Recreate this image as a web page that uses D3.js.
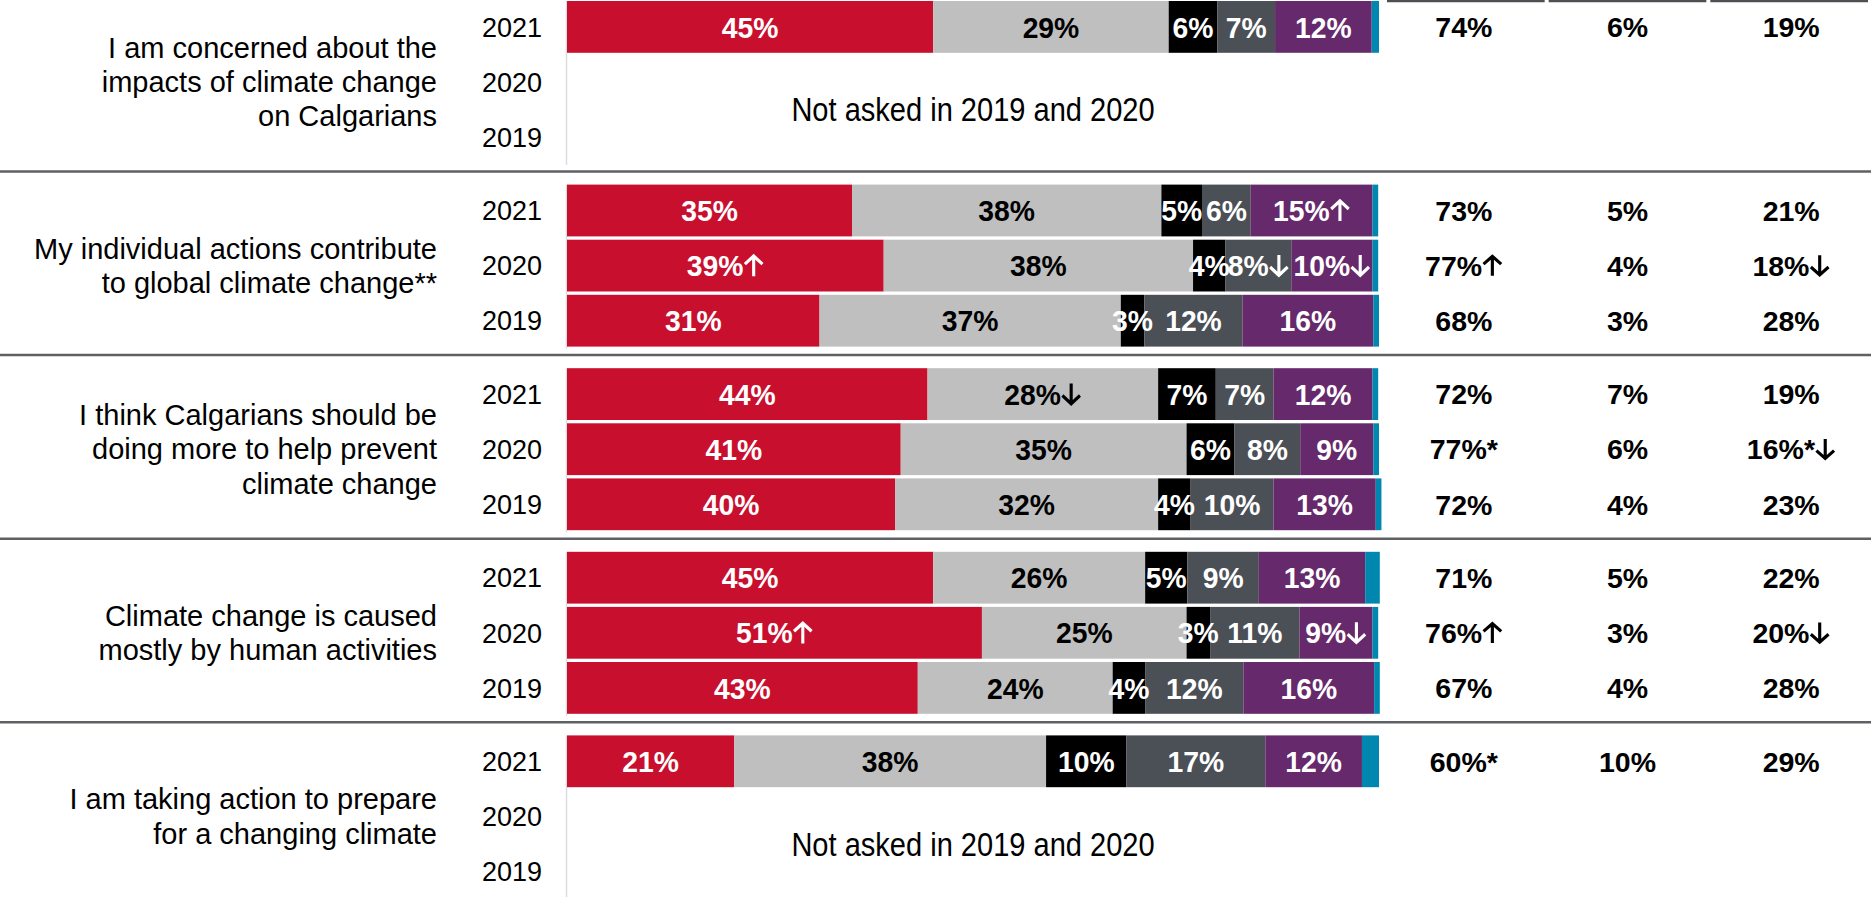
<!DOCTYPE html>
<html>
<head>
<meta charset="utf-8">
<script src="https://cdn.jsdelivr.net/npm/d3@7"></script>
<style>
  body { margin: 0; background: #fff; }
  text { font-family: "Liberation Sans", Arial, sans-serif; }
</style>
</head>
<body>
<div id="chart"></div>
<script>
var questions = [
    ["I am concerned about the", "impacts of climate change", "on Calgarians"],
    ["My individual actions contribute", "to global climate change**"],
    ["I think Calgarians should be", "doing more to help prevent", "climate change"],
    ["Climate change is caused", "mostly by human activities"],
    ["I am taking action to prepare", "for a changing climate"]
];
var years = ["2021", "2020", "2019"];
var notAsked = [0, 4];
var notAskedText = "Not asked in 2019 and 2020";

// one entry per bar that was asked
var rowQuestion = [0, 1, 1, 1, 2, 2, 2, 3, 3, 3, 4];
var rowYear = ["2021", "2021", "2020", "2019", "2021", "2020", "2019", "2021", "2020", "2019", "2021"];

var stronglyAgree    = [45.1, 35.1, 39.0, 31.1, 44.4, 41.1, 40.4, 45.1, 51.1, 43.2, 20.6];
var somewhatAgree    = [29.0, 38.1, 38.1, 37.1, 28.4, 35.2, 32.4, 26.1, 25.2, 24.0, 38.4];
var dontKnow         = [6.0, 5.0, 4.0, 2.9, 7.1, 5.9, 4.0, 5.2, 2.9, 4.0, 9.9];
var somewhatDisagree = [7.1, 6.0, 8.1, 12.1, 7.1, 8.1, 10.2, 8.8, 11.0, 12.1, 17.1];
var stronglyDisagree = [11.9, 15.0, 10.0, 16.1, 12.2, 9.0, 12.6, 13.1, 9.0, 16.1, 11.9];
var refused          = [0.9, 0.7, 0.7, 0.7, 0.7, 0.7, 0.7, 1.8, 0.7, 0.7, 2.1];

// significance marks shown after the bar labels
var stronglyAgreeMarks    = ["", "", "↑", "", "", "", "", "", "↑", "", ""];
var somewhatAgreeMarks    = ["", "", "", "", "↓", "", "", "", "", "", ""];
var dontKnowMarks         = ["", "", "", "", "", "", "", "", "", "", ""];
var somewhatDisagreeMarks = ["", "", "↓", "", "", "", "", "", "", "", ""];
var stronglyDisagreeMarks = ["", "↑", "↓", "", "", "", "", "", "↓", "", ""];

// summary columns on the right
var totalAgree         = [74, 73, 77, 68, 72, 77, 72, 71, 76, 67, 60];
var totalAgreeMarks    = ["", "", "↑", "", "", "*", "", "", "↑", "", "*"];
var totalDontKnow      = [6, 5, 4, 3, 7, 6, 4, 5, 3, 4, 10];
var totalDontKnowMarks = ["", "", "", "", "", "", "", "", "", "", ""];
var totalDisagree      = [19, 21, 18, 28, 19, 16, 23, 22, 20, 28, 29];
var totalDisagreeMarks = ["", "", "↓", "", "", "*↓", "", "", "↓", "", ""];

var segments = [
    {key: "Strongly agree", values: stronglyAgree, marks: stronglyAgreeMarks, fill: "#c8102e", ink: "#fff"},
    {key: "Somewhat agree", values: somewhatAgree, marks: somewhatAgreeMarks, fill: "#bfbfbf", ink: "#000"},
    {key: "Don't know", values: dontKnow, marks: dontKnowMarks, fill: "#000000", ink: "#fff"},
    {key: "Somewhat disagree", values: somewhatDisagree, marks: somewhatDisagreeMarks, fill: "#4b4f56", ink: "#fff"},
    {key: "Strongly disagree", values: stronglyDisagree, marks: stronglyDisagreeMarks, fill: "#66296b", ink: "#fff"},
    {key: "Refused", values: refused, marks: null, fill: "#0087af", ink: null}
];
var summaries = [
    {values: totalAgree, marks: totalAgreeMarks},
    {values: totalDontKnow, marks: totalDontKnowMarks},
    {values: totalDisagree, marks: totalDisagreeMarks}
];

var width = 1875,
    height = 897;

var svg = d3.select("#chart").append("svg")
    .attr("width", width)
    .attr("height", height);

var x = d3.scaleLinear().domain([0, 100]).range([567, 1379]);
var yGroup = d3.scaleBand().domain(d3.range(questions.length)).range([1, 919]);
var yRow = d3.scaleBand().domain(years).range([0, 162]).paddingInner(0.06);
var xSummary = d3.scaleBand().domain(d3.range(summaries.length)).range([1385, 1870]);

function rowCenter(q, year) {
    return yGroup(q) + yRow(year) + yRow.bandwidth() / 2;
}

// "NN%" plus optional "*" and an up/down arrow drawn as a path,
// centred as a whole on the group origin
function percentLabel(g, value, mark, fs, color) {
    mark = mark || "";
    var arrow = mark.indexOf("↑") >= 0 ? "up" : (mark.indexOf("↓") >= 0 ? "down" : null),
        str = value + "%" + mark.replace(/[↑↓]/g, ""),
        base = 0.36 * fs,
        cap = 0.72 * fs,
        hw = 0.31 * fs,
        aw = arrow ? 2 * hw + 0.1 * fs : 0;
    var t = g.append("text")
        .attr("y", base)
        .attr("font-size", fs + "px")
        .attr("font-weight", "bold")
        .attr("fill", color)
        .text(str);
    var w = t.node().getComputedTextLength(),
        left = -(w + aw) / 2;
    t.attr("x", left);
    if (arrow) {
        var cx = left + w + 0.05 * fs + hw,
            top = base - cap,
            p = d3.path();
        if (arrow === "up") {
            p.moveTo(cx, base); p.lineTo(cx, top + 1);
            p.moveTo(cx - hw, top + hw); p.lineTo(cx, top + 1); p.lineTo(cx + hw, top + hw);
        } else {
            p.moveTo(cx, top); p.lineTo(cx, base - 1);
            p.moveTo(cx - hw, base - hw); p.lineTo(cx, base - 1); p.lineTo(cx + hw, base - hw);
        }
        g.append("path")
            .attr("d", p.toString())
            .attr("fill", "none")
            .attr("stroke", color)
            .attr("stroke-width", 0.11 * fs);
    }
}

// short header rules at the top of the summary columns
svg.append("g").selectAll("line")
    .data(summaries)
    .enter().append("line")
    .attr("x1", function(d, i) { return xSummary(i) + 2; })
    .attr("x2", function(d, i) { return xSummary(i) + xSummary.bandwidth() - 2; })
    .attr("y1", 1)
    .attr("y2", 1)
    .attr("stroke", "#4d4f53")
    .attr("stroke-width", 2.5);

// separators between questions
svg.append("g").selectAll("line")
    .data(d3.range(questions.length - 1))
    .enter().append("line")
    .attr("x1", 0)
    .attr("x2", 1871)
    .attr("y1", function(d) { return yGroup(d) + 170.5; })
    .attr("y2", function(d) { return yGroup(d) + 170.5; })
    .attr("stroke", "#5f6064")
    .attr("stroke-width", 2.5);

var groups = svg.append("g").selectAll("g")
    .data(questions)
    .enter().append("g")
    .attr("transform", function(d, i) { return "translate(0," + yGroup(i) + ")"; });

// light baseline at the start of the bars
groups.append("line")
    .attr("x1", x(0) - 0.5)
    .attr("x2", x(0) - 0.5)
    .attr("y1", 0)
    .attr("y2", yRow.range()[1] + 2)
    .attr("stroke", "#dcdcdc")
    .attr("stroke-width", 1.5);

groups.append("text")
    .attr("text-anchor", "end")
    .attr("font-size", "29px")
    .attr("fill", "#000")
    .each(function(lines) {
        var t = d3.select(this),
            lineHeight = 34.3,
            cy = yRow("2020") + yRow.bandwidth() / 2;
        lines.forEach(function(line, k) {
            t.append("tspan")
                .attr("x", 437)
                .attr("y", cy + (k - (lines.length - 1) / 2) * lineHeight)
                .attr("dy", "0.35em")
                .text(line);
        });
    });

groups.selectAll(".year")
    .data(years)
    .enter().append("text")
    .attr("class", "year")
    .attr("x", 542)
    .attr("y", function(d) { return yRow(d) + yRow.bandwidth() / 2; })
    .attr("dy", "0.36em")
    .attr("text-anchor", "end")
    .attr("font-size", "27px")
    .attr("fill", "#000")
    .text(function(d) { return d; });

// narrow lettering for the "not asked" note
groups.filter(function(d, i) { return notAsked.indexOf(i) >= 0; })
    .append("text")
    .attr("transform", "translate(" + ((x(0) + x(100)) / 2) + "," +
          ((yRow("2020") + yRow("2019") + yRow.bandwidth()) / 2) + ") scale(0.88,1)")
    .attr("dy", "0.35em")
    .attr("text-anchor", "middle")
    .attr("font-size", "33px")
    .attr("fill", "#000")
    .text(notAskedText);

// stacked bars
var rows = rowQuestion.map(function(q, r) {
    var start = 0;
    return {
        q: q,
        year: rowYear[r],
        parts: segments.map(function(s) {
            var p = {x0: start, x1: start + s.values[r], v: s.values[r],
                     mark: s.marks ? s.marks[r] : null, fill: s.fill, ink: s.ink};
            start += s.values[r];
            return p;
        })
    };
});

var bars = svg.append("g").selectAll("g")
    .data(rows)
    .enter().append("g")
    .attr("transform", function(d) { return "translate(0," + (yGroup(d.q) + yRow(d.year)) + ")"; });

bars.selectAll("rect")
    .data(function(d) { return d.parts; })
    .enter().append("rect")
    .attr("x", function(d) { return x(d.x0); })
    .attr("y", 0)
    .attr("width", function(d) { return x(d.x1) - x(d.x0); })
    .attr("height", yRow.bandwidth())
    .attr("fill", function(d) { return d.fill; });

bars.selectAll("g.label")
    .data(function(d) { return d.parts.filter(function(p) { return p.ink; }); })
    .enter().append("g")
    .attr("class", "label")
    .attr("transform", function(d) {
        return "translate(" + ((x(d.x0) + x(d.x1)) / 2) + "," + (yRow.bandwidth() / 2) + ") scale(0.96,1)";
    })
    .each(function(d) { percentLabel(d3.select(this), Math.round(d.v), d.mark, 29.5, d.ink); });

// summary columns
summaries.forEach(function(s, c) {
    svg.append("g").selectAll("g")
        .data(rowQuestion)
        .enter().append("g")
        .attr("transform", function(q, r) {
            return "translate(" + (xSummary(c) + xSummary.bandwidth() / 2 + [-2, 0, 2][c]) + "," +
                rowCenter(q, rowYear[r]) + ")";
        })
        .each(function(q, r) { percentLabel(d3.select(this), s.values[r], s.marks[r], 28.5, "#000"); });
});
</script>
</body>
</html>
